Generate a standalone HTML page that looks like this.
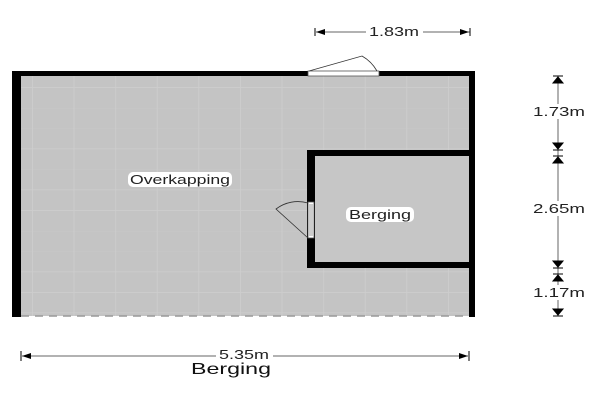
<!DOCTYPE html>
<html><head><style>html,body{margin:0;padding:0;background:#fff}svg{display:block}</style></head>
<body>
<svg width="600" height="400" viewBox="0 0 600 400" xmlns="http://www.w3.org/2000/svg" font-family="Liberation Sans, sans-serif">
<defs>
<pattern id="g" x="32" y="87" width="41.6" height="20.5" patternUnits="userSpaceOnUse">
<rect width="41.6" height="20.5" fill="#c4c4c4"/>
<path d="M0 0H41.6M0 0V20.5" stroke="#cecece" stroke-width="1.5"/>
</pattern>
</defs>
<rect x="20" y="74" width="450" height="242" fill="url(#g)"/>
<rect x="314" y="156" width="155" height="106" fill="#c6c6c6"/>
<line x1="21" y1="316" x2="469" y2="316" stroke="#999" stroke-width="1.5" stroke-dasharray="8,6"/>
<rect x="12" y="71" width="463" height="5" fill="#000"/>
<rect x="12" y="71" width="9" height="246" fill="#000"/>
<rect x="469" y="71" width="6" height="246" fill="#000"/>
<rect x="307" y="150" width="164" height="6" fill="#000"/>
<rect x="307" y="262" width="164" height="6" fill="#000"/>
<rect x="307" y="150" width="8" height="118" fill="#000"/>
<rect x="308" y="71" width="71" height="5" fill="#fff" stroke="#555" stroke-width="0.8"/>
<path d="M309 71 L362 56 A40 40 0 0 1 377 71" fill="none" stroke="#333" stroke-width="0.8"/>
<rect x="308" y="202" width="6" height="36" fill="#fff" stroke="#555" stroke-width="0.8"/>
<line x1="310" y1="204" x2="310" y2="236" stroke="#555" stroke-width="0.6"/>
<line x1="312" y1="204" x2="312" y2="236" stroke="#555" stroke-width="0.6"/>
<path d="M308 203 A36 36 0 0 0 276 209 L308 238" fill="none" stroke="#333" stroke-width="0.8"/>
<rect x="128" y="172" width="104" height="15" rx="5" fill="#fff"/>
<text x="180" y="184" font-size="13" text-anchor="middle" fill="#222" textLength="100" lengthAdjust="spacingAndGlyphs">Overkapping</text>
<rect x="346" y="207" width="68" height="15" rx="5" fill="#fff"/>
<text x="380" y="219" font-size="13" text-anchor="middle" fill="#222" textLength="62" lengthAdjust="spacingAndGlyphs">Berging</text>
<line x1="316" y1="32" x2="366" y2="32" stroke="#666"/>
<line x1="423" y1="32" x2="470" y2="32" stroke="#666"/>
<line x1="315" y1="28" x2="315" y2="36" stroke="#000"/>
<line x1="470" y1="28" x2="470" y2="36" stroke="#000"/>
<path d="M316 32 L325 29 L325 35Z M469 32 L460 29 L460 35Z" fill="#000"/>
<text x="394" y="36" font-size="13" text-anchor="middle" fill="#222" textLength="50" lengthAdjust="spacingAndGlyphs">1.83m</text>
<line x1="558" y1="76" x2="558" y2="316" stroke="#666"/>
<g fill="#000" stroke="#000">
<line x1="553" y1="76" x2="563" y2="76"/>
<path d="M558 77 L553 83 L563 83Z"/>
<line x1="553" y1="150" x2="563" y2="150"/>
<path d="M558 149 L553 143 L563 143Z"/>
<line x1="553" y1="156" x2="563" y2="156"/>
<path d="M558 157 L553 163 L563 163Z"/>
<line x1="553" y1="268" x2="563" y2="268"/>
<path d="M558 267 L553 261 L563 261Z"/>
<line x1="553" y1="274" x2="563" y2="274"/>
<path d="M558 275 L553 281 L563 281Z"/>
<line x1="553" y1="316" x2="563" y2="316"/>
<path d="M558 315 L553 309 L563 309Z"/>
</g>
<rect x="531" y="104" width="56" height="15" fill="#fff"/>
<text x="559" y="116" font-size="13" text-anchor="middle" fill="#222" textLength="52" lengthAdjust="spacingAndGlyphs">1.73m</text>
<rect x="531" y="201" width="56" height="15" fill="#fff"/>
<text x="559" y="213" font-size="13" text-anchor="middle" fill="#222" textLength="52" lengthAdjust="spacingAndGlyphs">2.65m</text>
<rect x="531" y="285" width="56" height="15" fill="#fff"/>
<text x="559" y="297" font-size="13" text-anchor="middle" fill="#222" textLength="52" lengthAdjust="spacingAndGlyphs">1.17m</text>
<line x1="22" y1="356" x2="216" y2="356" stroke="#666"/>
<line x1="273" y1="356" x2="468" y2="356" stroke="#666"/>
<line x1="21" y1="351" x2="21" y2="361" stroke="#000"/>
<line x1="469" y1="351" x2="469" y2="361" stroke="#000"/>
<path d="M22 356 L31 353 L31 359Z M468 356 L459 353 L459 359Z" fill="#000"/>
<text x="244" y="359" font-size="13" text-anchor="middle" fill="#222" textLength="50" lengthAdjust="spacingAndGlyphs">5.35m</text>
<text x="231" y="374" font-size="16" text-anchor="middle" fill="#111" textLength="80" lengthAdjust="spacingAndGlyphs">Berging</text>
</svg>
</body></html>
